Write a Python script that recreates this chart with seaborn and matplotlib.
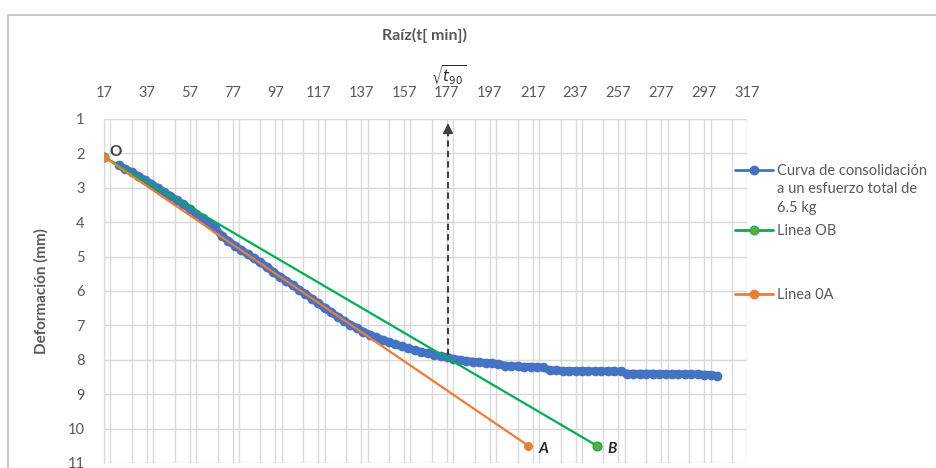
import matplotlib
matplotlib.use("Agg")
import matplotlib.pyplot as plt
import seaborn as sns
import pandas as pd
from matplotlib.patches import Rectangle
from matplotlib.lines import Line2D
from matplotlib.ticker import MultipleLocator

# ---------------- data ----------------
curve_x = [24, 27, 30, 33, 36, 39, 42, 45, 48, 51, 54, 57, 60, 63, 66, 69, 72, 75, 78, 81,
           84, 87, 90, 93, 96, 99, 102, 105, 108, 111, 114, 117, 120, 123, 126, 129, 132, 135, 138, 141,
           144, 147, 150, 153, 156, 159, 162, 165, 168, 171, 174, 177, 180, 183, 186, 189, 192, 195, 198, 201,
           204, 207, 210, 213, 216, 219, 222, 225, 228, 231, 234, 237, 240, 243, 246, 249, 252, 255, 258, 261,
           264, 267, 270, 273, 276, 279, 282, 285, 288, 291, 294, 297, 300, 303]
curve_y = [2.35, 2.45, 2.55, 2.66, 2.77, 2.88, 3.00, 3.12, 3.24, 3.36, 3.48, 3.61, 3.75, 3.88, 4.02, 4.18, 4.40, 4.55, 4.68, 4.80,
           4.93, 5.05, 5.17, 5.30, 5.45, 5.58, 5.70, 5.83, 5.96, 6.09, 6.22, 6.36, 6.50, 6.62, 6.75, 6.87, 6.98, 7.08, 7.18, 7.27,
           7.35, 7.42, 7.49, 7.55, 7.61, 7.67, 7.72, 7.77, 7.81, 7.85, 7.89, 7.93, 7.97, 8.00, 8.03, 8.05, 8.07, 8.09, 8.10, 8.12,
           8.17, 8.18, 8.19, 8.20, 8.20, 8.21, 8.22, 8.31, 8.31, 8.32, 8.32, 8.32, 8.32, 8.33, 8.33, 8.33, 8.33, 8.34, 8.34, 8.40,
           8.40, 8.40, 8.40, 8.40, 8.41, 8.41, 8.41, 8.41, 8.42, 8.42, 8.42, 8.43, 8.44, 8.47]

ob_x = [17, 247]
ob_y = [2.1, 10.5]
oa_x = [17, 215]
oa_y = [2.1, 10.5]

t90_x = 177.5
t90_y = [7.85, 1.12]

x_ticks = list(range(17, 318, 20))
y_ticks = list(range(1, 12))

label_curve = "Curva de consolidación"
label_curve_rest = "a un esfuerzo total de\n6.5 kg"
label_ob = "Linea OB"
label_oa = "Linea 0A"
title = "Raíz(t[ min])"
ylabel = "Deformación (mm)"

# ---------------- style ----------------
sns.set_style("white")
plt.rcParams["font.family"] = ["Lato", "DejaVu Sans"]
plt.rcParams["mathtext.fontset"] = "dejavusans"

BLUE = "#4472C4"
GREEN = "#00B050"
ORANGE = "#ED7D31"
GRID = "#D9D9D9"
TXT = "#595959"

W, H = 936, 468
fig = plt.figure(figsize=(W / 100, H / 100), dpi=100)
fig.patch.set_facecolor("white")

# outer chart border
fig.add_artist(Rectangle((8 / W, -0.1), 1.2, 1 - 15 / H + 0.1, transform=fig.transFigure,
                         fill=False, edgecolor="#BFBFBF", linewidth=1.2))

ax = fig.add_axes([104 / W, 1 - 463 / H, (747 - 104) / W, (463 - 119) / H])

df_curve = pd.DataFrame({"x": curve_x, "y": curve_y})
df_ob = pd.DataFrame({"x": ob_x, "y": ob_y})
df_oa = pd.DataFrame({"x": oa_x, "y": oa_y})

sns.lineplot(data=df_curve, x="x", y="y", sort=False, ax=ax, color=BLUE, linewidth=5.5,
             marker="o", markersize=7, markeredgewidth=0, zorder=3)
sns.lineplot(data=df_ob, x="x", y="y", sort=False, ax=ax, color=GREEN, linewidth=1.6,
             marker="o", markersize=6.5, markerfacecolor="#5FA843", markeredgecolor=GREEN,
             markeredgewidth=0.8, zorder=4)
sns.lineplot(data=df_oa, x="x", y="y", sort=False, ax=ax, color=ORANGE, linewidth=1.6,
             marker="o", markersize=6.5, markeredgewidth=0, zorder=5)

# t90 dashed arrow
ax.plot([t90_x, t90_x], [t90_y[0], t90_y[1] + 0.25], linestyle=(0, (3, 2)), color="#404040",
        linewidth=1.5, zorder=6)
ax.annotate("", xy=(t90_x, t90_y[1]), xytext=(t90_x, t90_y[1] + 0.35),
            arrowprops=dict(arrowstyle="-|>,head_width=0.3,head_length=0.6", color="#404040",
                            linewidth=1.2, shrinkA=0, shrinkB=0), zorder=6)

# point labels
ax.text(oa_x[0] + 2.5, oa_y[0] - 0.13, "O", fontsize=11, fontweight="bold", color="#404040",
        ha="left", va="center")
ax.text(oa_x[1] + 5, oa_y[1] + 0.08, "A", fontsize=11, fontweight="bold", fontstyle="italic",
        color="#262626", ha="left", va="center")
ax.text(ob_x[1] + 5, ob_y[1] + 0.08, "B", fontsize=11, fontweight="bold", fontstyle="italic",
        color="#262626", ha="left", va="center")

# axes configuration
ax.set_xlim(17, 317)
ax.set_ylim(11, 1)
ax.set_xticks(x_ticks)
ax.set_yticks(y_ticks)
ax.xaxis.set_minor_locator(MultipleLocator(10))
ax.yaxis.set_minor_locator(MultipleLocator(0.5))
ax.xaxis.tick_top()
ax.grid(True, which="major", axis="both", color=GRID, linewidth=1)
ax.grid(True, which="minor", axis="x", color=GRID, linewidth=1)
ax.tick_params(axis="x", which="both", length=0, pad=14, labelsize=10.5, labelcolor=TXT)
ax.tick_params(axis="y", which="major", length=0, pad=14, labelsize=10.5, labelcolor=TXT)
ax.tick_params(axis="y", which="minor", direction="in", length=5, width=1, color=GRID)
ax.set_xlabel("")
ax.set_ylabel(ylabel, fontsize=11, fontweight="bold", color=TXT, labelpad=14)
for s in ax.spines.values():
    s.set_visible(False)
ax.spines["left"].set_visible(True)
ax.spines["left"].set_color(GRID)

fig.text(425 / W, 1 - 35 / H, title, ha="center", va="center", fontsize=11.5,
         fontweight="bold", color=TXT)
fig.text(449 / W, 1 - 75 / H, r"$\sqrt{t_{90}}$", ha="center", va="center", fontsize=10.5,
         color="#262626")

# legend (manual placement like the Excel layout)
def legend_entry(color, label, ypix, mfc=None, mec=None):
    h = Line2D([0], [0], color=color, linewidth=2, marker="o", markersize=6.5,
               markerfacecolor=mfc or color, markeredgecolor=mec or color, markeredgewidth=0.6)
    leg = fig.legend(handles=[h], labels=[label], loc="center left",
                     bbox_to_anchor=(735 / W, 1 - ypix / H), frameon=False, borderpad=0,
                     borderaxespad=0, handlelength=2.6, handletextpad=0.3, fontsize=10.5,
                     labelcolor=TXT)
    return leg

legend_entry(BLUE, label_curve, 171)
fig.text(777 / W, 1 - 182 / H, label_curve_rest, ha="left", va="top", fontsize=10.5,
         color=TXT, linespacing=1.45)
legend_entry(GREEN, label_ob, 231, mfc="#5FA843", mec=GREEN)
legend_entry(ORANGE, label_oa, 295)

fig.savefig("out.png", dpi=100)
